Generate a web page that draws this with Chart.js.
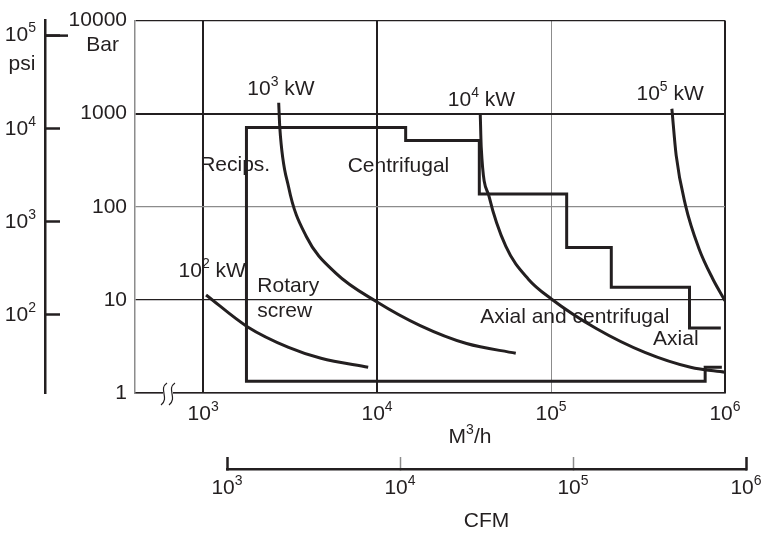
<!DOCTYPE html>
<html>
<head>
<meta charset="utf-8">
<title>Compressor ranges</title>
<script src="https://cdn.jsdelivr.net/npm/chart.js@4.4.1/dist/chart.umd.min.js"></script>
<style>
  html, body { margin: 0; padding: 0; background: #fff; }
  #wrap { width: 767px; height: 534px; }
</style>
</head>
<body>
<div id="wrap"><canvas id="ranges" width="767" height="534"></canvas></div>
<script>
// flow in m3/h, pressure in bar
const flowTicks = [1e3, 1e4, 1e5, 1e6];
const flowLabels = ['10³', '10⁴', '10⁵', '10⁶'];
const barTicks = [1, 10, 100, 1000, 10000];
const barLabels = ['1', '10', '100', '1000', '10000'];
const psiTicks = [1e2, 1e3, 1e4, 1e5];
const psiLabels = ['10²', '10³', '10⁴', '10⁵'];
const cfmTicks = [1e3, 1e4, 1e5, 1e6];
const cfmLabels = ['10³', '10⁴', '10⁵', '10⁶'];

// outline of the compressor application areas
const envFlow = [946000, 625000, 625000, 222000, 222000, 123000, 123000, 38700, 38700, 14600, 14600, 1775, 1775, 769000, 769000, 959000];
const envBar = [5.0, 5.0, 13.7, 13.7, 36.6, 36.6, 137, 137, 516, 516, 710, 710, 1.34, 1.34, 1.89, 1.89];

// constant power lines
const kw2Flow = [1040, 1795, 3100, 4760, 8890];
const kw2Bar = [11.3, 5.16, 3.09, 2.36, 1.89];
const kw3Flow = [2720, 2760, 3100, 3920, 5790, 10000, 17700, 32700, 62700];
const kw3Bar = [1310, 710, 163, 48, 19.4, 9.5, 5.3, 3.4, 2.67];
const kw4Flow = [39200, 39700, 44100, 55000, 74100, 100000, 183000, 346000, 634000, 1000000];
const kw4Bar = [976, 435, 128, 37.5, 16.7, 10.3, 4.9, 2.73, 1.89, 1.67];
const kw5Flow = [495000, 524000, 592000, 708000, 847000, 1000000];
const kw5Bar = [1130, 357, 105, 35.7, 17.1, 9.8];

// area and power labels, anchored at (flow, bar)
const noteText = ['10² kW', '10³ kW', '10⁴ kW', '10⁵ kW', 'Recips.', 'Centrifugal', 'Rotary', 'screw', 'Axial and centrifugal', 'Axial'];
const noteFlow = [723, 1795, 25500, 310000, 962, 6780, 2050, 2050, 39200, 386000];
const noteBar = [20.4, 1845, 1409, 1633, 280, 273, 14.1, 7.64, 6.59, 3.75];

const ink = '#231f20';
const grey = '#8c8c8c';
const fontFam = '"Liberation Sans", Arial, Helvetica, sans-serif';
const baseSize = 21;
const supSize = 14;
const labelFont = { family: fontFam, size: baseSize };

const pts = (xs, ys) => xs.map((x, i) => ({ x: x, y: ys[i] }));
const fixTicks = (vals) => (scale) => { scale.ticks = vals.map(v => ({ value: v })); };
const tickText = (vals, labels) => (v) => { const i = vals.indexOf(v); return i < 0 ? '' : labels[i]; };

// draws text with raised exponents (10³ etc) in a larger size than the unicode glyphs
const supDigits = { '⁰': '0', '¹': '1', '²': '2', '³': '3', '⁴': '4', '⁵': '5', '⁶': '6', '⁷': '7', '⁸': '8', '⁹': '9' };
function drawRich(ctx, text, x, y, align) {
    const runs = [];
    for (const ch of text) {
        const isSup = ch in supDigits;
        const c = isSup ? supDigits[ch] : ch;
        const last = runs[runs.length - 1];
        if (last && last.sup === isSup) last.t += c;
        else runs.push({ sup: isSup, t: c });
    }
    let w = 0;
    runs.forEach(r => {
        ctx.font = (r.sup ? supSize : baseSize) + 'px ' + fontFam;
        r.w = ctx.measureText(r.t).width;
        w += r.w;
    });
    let cx = align === 'right' ? x - w : (align === 'center' ? x - w / 2 : x);
    ctx.textAlign = 'left';
    ctx.textBaseline = 'middle';
    runs.forEach(r => {
        ctx.font = (r.sup ? supSize : baseSize) + 'px ' + fontFam;
        ctx.fillText(r.t, cx, r.sup ? y - 7 : y);
        cx += r.w;
    });
}

function curve(data) {
    return {
        data: data,
        borderColor: ink,
        borderWidth: 3,
        pointRadius: 0,
        cubicInterpolationMode: 'monotone',
        fill: false
    };
}

// CFM scale is drawn a bit offset from the plot, like a separate ruler
const cfmRuler = {
    id: 'cfmRuler',
    afterLayout(chart) {
        const s = chart.scales.cfm;
        s.left = 227;
        s.right = 746;
        s.width = s.right - s.left;
        s.configure();
    }
};

const notes = {
    id: 'notes',
    afterDraw(chart) {
        const ctx = chart.ctx;
        const x = chart.scales.x, y = chart.scales.y;
        const psi = chart.scales.psi, cfm = chart.scales.cfm;
        const area = chart.chartArea;
        ctx.save();
        ctx.fillStyle = ink;

        noteText.forEach((t, i) => {
            drawRich(ctx, t, x.getPixelForValue(noteFlow[i]), y.getPixelForValue(noteBar[i]), 'left');
        });

        // tick labels with exponents
        flowTicks.forEach((v, i) => drawRich(ctx, flowLabels[i], x.getPixelForValue(v), area.bottom + 21, 'center'));
        cfmTicks.forEach((v, i) => drawRich(ctx, cfmLabels[i], cfm.getPixelForValue(v), cfm.top + 19, 'center'));
        psiTicks.forEach((v, i) => drawRich(ctx, psiLabels[i], psi.right - 9, psi.getPixelForValue(v), 'right'));

        // unit captions
        drawRich(ctx, 'Bar', area.left - 16, area.top + 25, 'right');
        drawRich(ctx, 'psi', psi.left + 22, area.top + 44, 'center');
        drawRich(ctx, 'M³/h', area.left + 335, area.bottom + 44, 'center');

        // the top psi tick runs a little further in
        ctx.strokeStyle = ink;
        ctx.lineWidth = 2.5;
        const ty = psi.getPixelForValue(1e5);
        ctx.beginPath();
        ctx.moveTo(psi.right, ty);
        ctx.lineTo(psi.right + 23, ty);
        ctx.stroke();

        // axis break on the flow axis
        const by = area.bottom;
        ctx.fillStyle = '#fff';
        ctx.fillRect(area.left + 28, by - 2, 10, 4);
        ctx.lineWidth = 1.2;
        [area.left + 29, area.left + 37].forEach(cx => {
            ctx.beginPath();
            ctx.moveTo(cx + 3, by - 10);
            ctx.bezierCurveTo(cx - 6, by - 4, cx + 6, by + 5, cx - 3, by + 12);
            ctx.stroke();
        });
        ctx.restore();
    }
};

new Chart(document.getElementById('ranges'), {
    type: 'line',
    data: {
        datasets: [
            Object.assign(curve(pts(envFlow, envBar)), { cubicInterpolationMode: 'default', tension: 0 }),
            curve(pts(kw2Flow, kw2Bar)),
            curve(pts(kw3Flow, kw3Bar)),
            curve(pts(kw4Flow, kw4Bar)),
            curve(pts(kw5Flow, kw5Bar))
        ]
    },
    options: {
        responsive: false,
        animation: false,
        layout: { padding: { top: 17, right: 42, left: 0, bottom: 0 } },
        plugins: { legend: { display: false }, tooltip: { enabled: false } },
        scales: {
            x: {
                type: 'logarithmic',
                position: 'bottom',
                min: 406,
                max: 1e6,
                afterBuildTicks: fixTicks(flowTicks),
                afterFit: (s) => { s.height = 76; },
                ticks: { display: false, callback: tickText(flowTicks, flowLabels) },
                grid: {
                    drawTicks: false,
                    color: (c) => c.tick && c.tick.value === 1e5 ? grey : ink,
                    lineWidth: (c) => c.tick && c.tick.value === 1e5 ? 1 : 2
                },
                border: { color: ink, width: 1.5 }
            },
            cfm: {
                type: 'logarithmic',
                position: 'bottom',
                weight: 1,
                min: 1e3,
                max: 1e6,
                afterBuildTicks: fixTicks(cfmTicks),
                afterFit: (s) => { s.height = 65; },
                ticks: { display: false, callback: tickText(cfmTicks, cfmLabels) },
                grid: {
                    drawOnChartArea: false,
                    tickLength: -12,
                    tickWidth: (c) => c.tick && (c.tick.value === 1e3 || c.tick.value === 1e6) ? 2.5 : 1.5,
                    tickColor: (c) => c.tick && (c.tick.value === 1e3 || c.tick.value === 1e6) ? ink : grey
                },
                border: { color: ink, width: 2.5 },
                title: { display: true, text: 'CFM', font: labelFont, color: ink, padding: { top: 0, bottom: 0 } }
            },
            y: {
                type: 'logarithmic',
                position: 'left',
                min: 1,
                max: 10000,
                afterBuildTicks: fixTicks(barTicks),
                afterFit: (s) => { s.width = 90; },
                ticks: { callback: tickText(barTicks, barLabels), font: labelFont, color: ink, padding: 8, autoSkip: false },
                grid: {
                    drawTicks: false,
                    color: (c) => c.tick && c.tick.value === 100 ? grey : ink,
                    lineWidth: (c) => {
                        const v = c.tick ? c.tick.value : 0;
                        return v === 1000 ? 2 : (v === 100 ? 1.3 : 1.2);
                    }
                },
                border: { color: grey, width: 1.5 }
            },
            psi: {
                type: 'logarithmic',
                position: 'left',
                weight: 1,
                min: 14.5038,
                max: 145038,
                afterBuildTicks: fixTicks(psiTicks),
                afterFit: (s) => { s.width = 45; },
                ticks: { display: false, callback: tickText(psiTicks, psiLabels) },
                grid: { drawOnChartArea: false, tickLength: -15, tickWidth: 2.5, tickColor: ink },
                border: { color: ink, width: 2.5 }
            }
        }
    },
    plugins: [cfmRuler, notes]
});
</script>
</body>
</html>
